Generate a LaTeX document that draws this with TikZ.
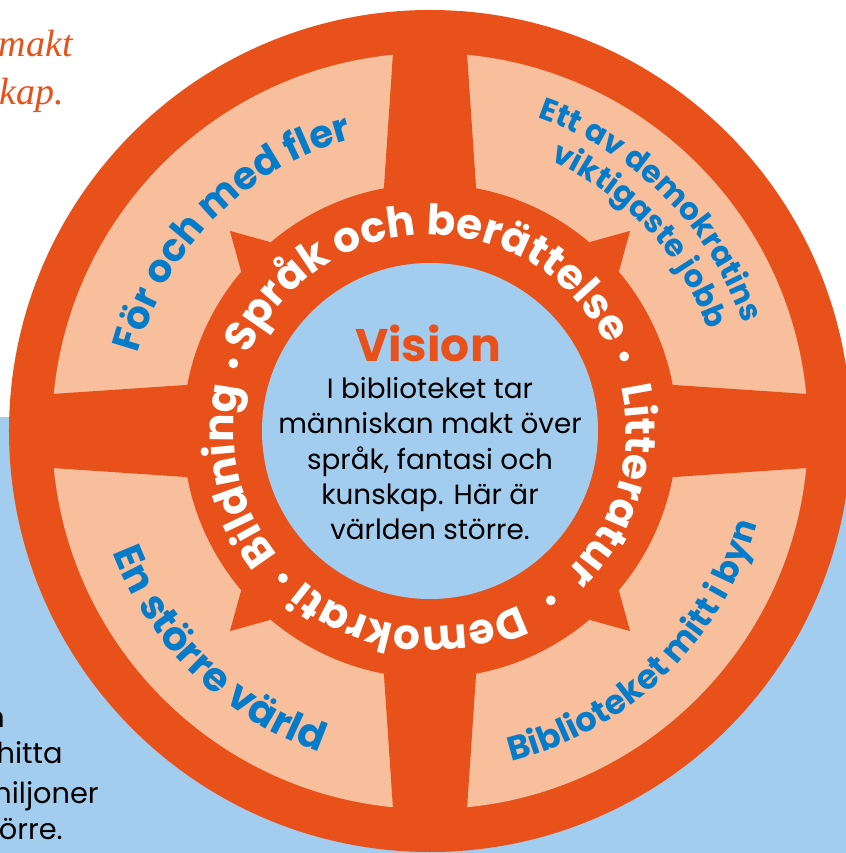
\documentclass[tikz,border=0pt]{standalone}
\usepackage{fontspec}
\setmainfont{Poppins}
\newfontfamily\serifit{Liberation Serif}
\usetikzlibrary{decorations.text}
\definecolor{ringorange}{RGB}{232,82,26}
\definecolor{peach}{RGB}{248,191,157}
\definecolor{skyblue}{RGB}{163,205,239}
\definecolor{textblue}{RGB}{4,124,202}

\begin{document}
\begin{tikzpicture}[
    x=0.025cm, y=0.025cm,
    ringtext/.style={decorate, decoration={text along path, text align=center,
        text={|\fontsize{30}{30}\selectfont\bfseries\color{white}|#1}}},
    quadtext/.style 2 args={decorate, decoration={text along path, text align=center,
        text={|\fontsize{#1}{#1}\selectfont\bfseries\color{textblue}|#2}}},
    ringdot/.style={circle, fill=white, inner sep=0pt, minimum size=7pt},
    fragment/.style={inner sep=0pt, anchor=base east, font=\fontsize{20.5}{20.5}\selectfont},
    italicfrag/.style={inner sep=0pt, anchor=base east, text=ringorange, font=\serifit\itshape\fontsize{27}{27}\selectfont}
]
\fill[white] (-430,-422) rectangle (416,431);
\useasboundingbox (-430,-422) rectangle (416,431);
\fill[skyblue] (-430,-422) rectangle (416,14);

% wheel
\fill[ringorange] (0,0) circle[radius=421];
\fill[peach] (0,0) circle[radius=378];
\foreach \a in {0,90,180,270}
  \fill[ringorange, rotate=\a] (200,-49) -- (400,-35.5) -- (400,35.5) -- (200,49) -- cycle;
\fill[ringorange] (0,0) circle[radius=247];
\foreach \a in {45,135,225,315}
  \fill[ringorange] ({\a-4.85}:247) -- (\a:283) -- ({\a+4.85}:247) -- cycle;
\fill[skyblue] (0,0) circle[radius=168];

% inner ring
\path[ringtext={Språk och berättelse}] (171.5:196) arc[start angle=171.5, end angle=11.5, radius=196];
\path[ringtext={Litteratur}] (23.5:196) arc[start angle=23.5, end angle=-56.5, radius=196];
\path[ringtext={Demokrati}] (-51.5:196) arc[start angle=-51.5, end angle=-141.5, radius=196];
\path[ringtext={Bildning}] (228:196) arc[start angle=228, end angle=158, radius=196];
\node[ringdot] (dotnw) at (161:208) {};
\node[ringdot] (dotne) at (21:208) {};
\node[ringdot] (dotse) at (-54.5:208) {};
\node[ringdot] (dotsw) at (-135:208) {};

% quadrants
\path[quadtext={27.5}{För och med fler}] (185:302) arc[start angle=185, end angle=85, radius=302];
\path[quadtext={22}{Ett av demokratins}] (90:331) arc[start angle=90, end angle=0, radius=331];
\path[quadtext={22}{viktigaste jobb}] (83:296) arc[start angle=83, end angle=3, radius=296];
\path[quadtext={24}{Biblioteket mitt i byn}] (-96:340) arc[start angle=-96, end angle=4, radius=340];
\path[quadtext={28.5}{En större värld}] (176:340) arc[start angle=176, end angle=276, radius=340];

% centre
\node[font=\fontsize{32.5}{32.5}\selectfont\bfseries, text=ringorange, anchor=base] (vision) at (-2,69) {Vision};
\node[font=\fontsize{19.8}{25.2}\selectfont, align=center, anchor=base, inner sep=0pt] (visiontext) at (0,-109)
  {I biblioteket tar\\människan makt över\\språk, fantasi och\\kunskap. Här är\\världen större.};

% cut-off text at the left
\node[italicfrag] (makt) at (-357,374) {makt};
\node[italicfrag] (kap) at (-366,326) {kap.};
\node[fragment] (fragn) at (-425,-296) {n};
\node[fragment] (hitta) at (-367,-332) {hitta};
\node[fragment] (miljoner) at (-331,-372) {miljoner};
\node[fragment] (storre) at (-367,-408) {örre.};
\end{tikzpicture}
\end{document}
